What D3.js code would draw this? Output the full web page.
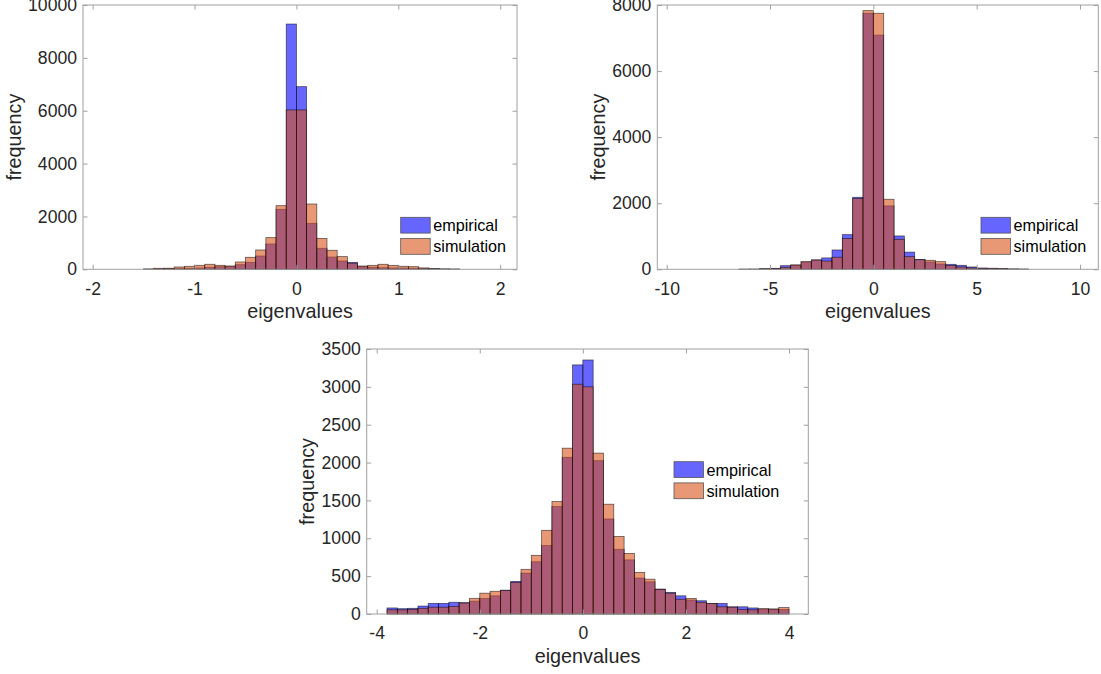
<!DOCTYPE html>
<html>
<head>
<meta charset="utf-8">
<script src="https://cdn.jsdelivr.net/npm/d3@7/dist/d3.min.js"></script>
<style>
  html, body { margin: 0; padding: 0; background: #fff; }
  svg { display: block; font-family: "Liberation Sans", Arial, Helvetica, sans-serif; }
</style>
</head>
<body>
<svg id="chart" width="1101" height="674"></svg>
<script>
// ---------- DATA ----------
const seriesNames = ["empirical", "simulation"];

// Panel 1 (bin width 0.1)
const p1Edges = [-1.5,-1.4,-1.3,-1.2,-1.1,-1.0,-0.9,-0.8,-0.7,-0.6,-0.5,-0.4,-0.3,-0.2,-0.1,0.0,0.1,0.2,0.3,0.4,0.5,0.6,0.7,0.8,0.9,1.0,1.1,1.2,1.3,1.4,1.5,1.6];
const p1Empirical = [10,15,30,25,38,50,75,100,110,176,265,504,958,2270,9280,6910,1740,795,465,315,260,110,75,60,50,50,40,40,25,15,10];
const p1Simulation = [10,38,40,88,113,151,190,151,126,277,454,731,1198,2408,6030,6030,2470,1170,720,480,230,125,150,190,150,115,100,50,25,10,5];
const p1XTicks = [-2,-1,0,1,2];
const p1YTicks = [0,2000,4000,6000,8000,10000];
const p1XLim = [-2.095, 2.165];
const p1YLim = [0, 10000];

// Panel 2 (bin width 0.5)
const p2Edges = [-6.5,-6,-5.5,-5,-4.5,-4,-3.5,-3,-2.5,-2,-1.5,-1,-0.5,0,0.5,1,1.5,2,2.5,3,3.5,4,4.5,5,5.5,6,6.5,7,7.5];
const p2Empirical = [3,5,20,30,110,130,220,285,345,585,1050,2180,7750,7090,1920,1010,520,300,222,161,151,121,71,40,30,20,10,5];
const p2Simulation = [3,5,15,25,60,130,232,280,250,365,930,2140,7830,7750,2120,908,383,290,272,232,111,71,40,25,30,20,10,5];
const p2XTicks = [-10,-5,0,5,10];
const p2YTicks = [0,2000,4000,6000,8000];
const p2XLim = [-10.455, 10.885];
const p2YLim = [0, 8000];

// Panel 3 (bin width 0.2)
const p3Edges = [-3.8,-3.6,-3.4,-3.2,-3.0,-2.8,-2.6,-2.4,-2.2,-2.0,-1.8,-1.6,-1.4,-1.2,-1.0,-0.8,-0.6,-0.4,-0.2,0.0,0.2,0.4,0.6,0.8,1.0,1.2,1.4,1.6,1.8,2.0,2.2,2.4,2.6,2.8,3.0,3.2,3.4,3.6,3.8,4.0];
const p3Empirical = [80,70,75,105,140,140,155,150,170,205,240,315,430,540,690,905,1420,2070,3290,3355,2025,1255,855,715,475,425,330,285,240,185,175,140,140,95,95,80,65,65,60];
const p3Simulation = [55,55,60,75,90,90,100,145,207,275,300,310,415,590,775,1105,1485,2190,3035,3000,2125,1450,1025,800,550,460,325,275,195,205,155,140,95,90,60,55,70,65,85];
const p3XTicks = [-4,-2,0,2,4];
const p3YTicks = [0,500,1000,1500,2000,2500,3000,3500];
const p3XLim = [-4.194, 4.374];
const p3YLim = [0, 3500];

const xLabel = "eigenvalues";
const yLabel = "frequency";

// ---------- LAYOUT / STYLE ----------
const panels = [
  { edges: p1Edges, emp: p1Empirical, sim: p1Simulation, xTicks: p1XTicks, yTicks: p1YTicks, xLim: p1XLim, yLim: p1YLim,
    box: { left: 83, right: 517, top: 5, bottom: 269.3 }, legend: { x: 400.7, y: 217.3 } },
  { edges: p2Edges, emp: p2Empirical, sim: p2Simulation, xTicks: p2XTicks, yTicks: p2YTicks, xLim: p2XLim, yLim: p2YLim,
    box: { left: 657.3, right: 1098.3, top: 5, bottom: 269.3 }, legend: { x: 981, y: 217.3 } },
  { edges: p3Edges, emp: p3Empirical, sim: p3Simulation, xTicks: p3XTicks, yTicks: p3YTicks, xLim: p3XLim, yLim: p3YLim,
    box: { left: 366.7, right: 808.3, top: 349, bottom: 614 }, legend: { x: 674, y: 461.7 } }
];

const empColor = "rgb(0,0,255)";
const simColor = "rgb(217,83,25)";
const faceAlpha = 0.6;
const axisColor = "#a0a0a0";
const textColor = "#262626";
const tickFont = 17.6;
const labelFont = 19.8;
const legendFont = 16.2;
const tickLen = 4.5;

const svg = d3.select("#chart");

panels.forEach(p => {
  const b = p.box;
  const x = d3.scaleLinear().domain(p.xLim).range([b.left, b.right]);
  const y = d3.scaleLinear().domain(p.yLim).range([b.bottom, b.top]);
  const g = svg.append("g");

  const bins = s => s.map((v, i) => ({ x0: p.edges[i], x1: p.edges[i + 1], v }));

  [[p.emp, empColor], [p.sim, simColor]].forEach(([series, color]) => {
    g.append("g").selectAll("rect").data(bins(series)).join("rect")
      .attr("x", d => x(d.x0))
      .attr("width", d => x(d.x1) - x(d.x0))
      .attr("y", d => y(d.v))
      .attr("height", d => y(0) - y(d.v))
      .attr("fill", color)
      .attr("fill-opacity", faceAlpha)
      .attr("stroke", "#000")
      .attr("stroke-opacity", 0.6)
      .attr("stroke-width", 0.8);
  });

  g.append("rect")
    .attr("x", b.left).attr("y", b.top)
    .attr("width", b.right - b.left).attr("height", b.bottom - b.top)
    .attr("fill", "none").attr("stroke", axisColor).attr("stroke-width", 1);

  const styleAxis = sel => {
    sel.select(".domain").remove();
    sel.selectAll(".tick line").attr("stroke", axisColor);
    sel.selectAll(".tick text").attr("fill", textColor).attr("font-size", tickFont)
      .attr("font-family", "Liberation Sans, Arial, sans-serif");
  };
  const fmt = d => d < 0 ? "-" + Math.abs(d) : String(d);

  g.append("g").attr("transform", `translate(0,${b.bottom})`)
    .call(d3.axisBottom(x).tickValues(p.xTicks).tickFormat(fmt).tickSizeInner(-tickLen).tickSizeOuter(0).tickPadding(13))
    .call(styleAxis)
    .selectAll(".tick text").attr("dy", "0.71em");
  g.append("g").attr("transform", `translate(0,${b.top})`)
    .call(d3.axisTop(x).tickValues(p.xTicks).tickFormat("").tickSizeInner(-tickLen).tickSizeOuter(0))
    .call(styleAxis);
  const yAx = g.append("g").attr("transform", `translate(${b.left},0)`)
    .call(d3.axisLeft(y).tickValues(p.yTicks).tickFormat(d3.format("d")).tickSizeInner(-tickLen).tickSizeOuter(0).tickPadding(6))
    .call(styleAxis);
  g.append("g").attr("transform", `translate(${b.right},0)`)
    .call(d3.axisRight(y).tickValues(p.yTicks).tickFormat("").tickSizeInner(-tickLen).tickSizeOuter(0))
    .call(styleAxis);

  let maxW = 0;
  yAx.selectAll(".tick text").each(function () { maxW = Math.max(maxW, this.getComputedTextLength()); });

  g.append("text")
    .attr("x", (b.left + b.right) / 2)
    .attr("y", b.bottom + 48.5)
    .attr("text-anchor", "middle")
    .attr("font-size", labelFont)
    .attr("fill", textColor)
    .text(xLabel);

  const ylx = b.left - 6 - maxW - 7.5;
  g.append("text")
    .attr("transform", `translate(${ylx},${(b.top + b.bottom) / 2}) rotate(-90)`)
    .attr("text-anchor", "middle")
    .attr("font-size", labelFont)
    .attr("fill", textColor)
    .text(yLabel);

  const lg = g.append("g").attr("transform", `translate(${p.legend.x},${p.legend.y})`);
  [empColor, simColor].forEach((c, i) => {
    lg.append("rect").attr("x", 0).attr("y", i * 21.2).attr("width", 29.5).attr("height", 15.8)
      .attr("fill", c).attr("fill-opacity", faceAlpha)
      .attr("stroke", "#555").attr("stroke-width", 0.8);
    lg.append("text").attr("x", 32.5).attr("y", i * 21.2 + 8.3).attr("dy", "0.35em")
      .attr("font-size", legendFont).attr("fill", "#000").text(seriesNames[i]);
  });
});
</script>
</body>
</html>
